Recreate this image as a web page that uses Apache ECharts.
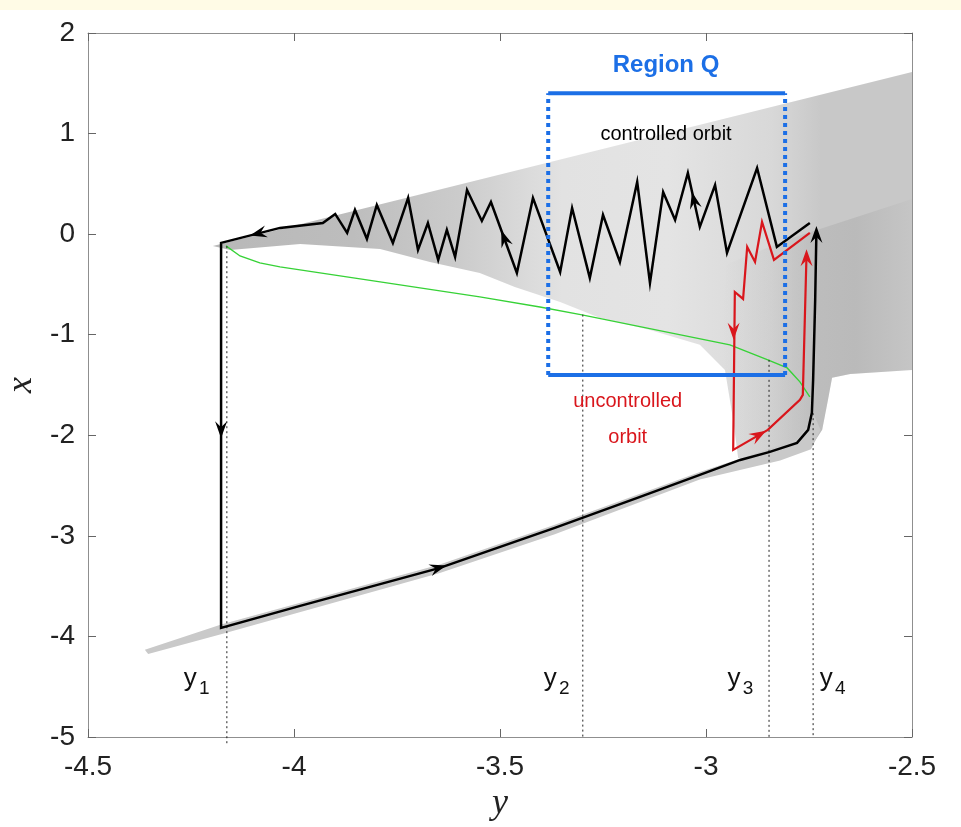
<!DOCTYPE html>
<html>
<head>
<meta charset="utf-8">
<script src="https://cdn.jsdelivr.net/npm/echarts@6/dist/echarts.min.js"></script>
<style>
html,body{margin:0;padding:0;background:#fff;}
#chart{position:absolute;left:0;top:0;width:961px;height:827px;}
#band{position:absolute;left:0;top:0;width:961px;height:10px;background:#fffbe6;}
</style>
</head>
<body>
<div id="chart"></div>
<div id="band"></div>
<script>
// ---- axis ticks ----
const xAxisTicks = [-4.5, -4, -3.5, -3, -2.5];   // horizontal axis (y)
const yAxisTicks = [-5, -4, -3, -2, -1, 0, 1, 2]; // vertical axis (x)

// ---- attractor cloud outlines [y, x] ----
const cloudUpper = [[-4.197,-0.117],[-2.5,1.612],[-2.5,-1.350],[-2.650,-1.390],[-2.694,-1.429],[-2.704,-1.648],[-2.718,-1.946],[-2.743,-2.105],[-2.796,-2.195],[-2.869,-2.264],[-2.922,-2.225],[-2.934,-1.847],[-2.954,-1.350],[-3.015,-1.101],[-3.136,-0.952],[-3.257,-0.833],[-3.354,-0.674],[-3.464,-0.525],[-3.549,-0.386],[-3.670,-0.276],[-3.791,-0.147],[-3.985,-0.097],[-4.155,-0.157]];
const cloudDense = [[-2.95,-0.30],[-2.80,-0.05],[-2.5,0.35],[-2.5,-1.350],[-2.650,-1.390],[-2.694,-1.429],[-2.704,-1.648],[-2.718,-1.946],[-2.743,-2.105],[-2.796,-2.195],[-2.869,-2.264],[-2.922,-2.225],[-2.934,-1.847],[-2.954,-1.350],[-2.96,-0.9]];
const cloudLower = [[-4.362,-4.133],[-4.175,-3.880],[-3.646,-3.285],[-3.367,-2.890],[-3.015,-2.365],[-2.845,-2.135],[-2.779,-2.036],[-2.752,-1.900],[-2.743,-1.748],[-2.722,-1.946],[-2.745,-2.140],[-2.820,-2.250],[-3.015,-2.440],[-3.367,-2.985],[-3.646,-3.370],[-4.175,-3.975],[-4.354,-4.175]];

// ---- green manifold curve ----
const greenCurve = [[-4.165,-0.117],[-4.131,-0.217],[-4.083,-0.286],[-4.034,-0.326],[-3.791,-0.475],[-3.549,-0.624],[-3.403,-0.724],[-3.301,-0.803],[-2.942,-1.101],[-2.850,-1.250],[-2.803,-1.330],[-2.772,-1.469],[-2.748,-1.618]];

// ---- controlled orbit (black) ----
const blackOrbit = [[-2.748,0.111],[-2.828,-0.127],[-2.876,0.658],[-2.949,-0.187],[-2.978,0.489],[-3.015,0.072],[-3.044,0.608],[-3.075,0.141],[-3.104,0.419],[-3.136,-0.485],[-3.167,0.519],[-3.209,-0.276],[-3.250,0.191],[-3.282,-0.435],[-3.325,0.260],[-3.354,-0.376],[-3.420,0.360],[-3.459,-0.386],[-3.522,0.320],[-3.544,0.131],[-3.580,0.439],[-3.609,-0.227],[-3.629,0.042],[-3.650,-0.256],[-3.675,0.111],[-3.699,-0.157],[-3.723,0.360],[-3.760,-0.087],[-3.799,0.290],[-3.823,-0.048],[-3.852,0.241],[-3.871,0.012],[-3.900,0.201],[-3.930,0.111],[-4.034,0.062],[-4.177,-0.087],
  [-4.177,-3.915],[-3.985,-3.696],[-3.646,-3.318],[-3.367,-2.920],[-3.160,-2.612],[-3.015,-2.394],[-2.917,-2.245],[-2.845,-2.165],[-2.779,-2.076],[-2.752,-1.946],[-2.743,-1.777],[-2.740,-1.449],[-2.735,-0.654],[-2.732,0.03]];
// arrows: [tailY, tailX, tipY, tipX]
const blackArrows = [[-4.177,-1.75,-4.177,-2.03],[-3.700,-3.378,-3.630,-3.295],[-4.05,0.045,-4.107,-0.014],[-3.481,-0.139,-3.497,0.038],[-3.025,0.260,-3.034,0.420],[-2.732,-0.20,-2.732,0.08]];

// ---- uncontrolled orbit (red) ----
const redOrbit = [[-2.748,0.012],[-2.835,-0.256],[-2.864,0.121],[-2.881,-0.276],[-2.900,-0.127],[-2.910,-0.644],[-2.930,-0.575],[-2.934,-2.145],[-2.850,-1.946],[-2.772,-1.648],[-2.765,-1.598],[-2.756,-0.20]];
const redArrows = [[-2.933,-0.83,-2.933,-1.05],[-2.888,-2.036,-2.854,-1.956],[-2.756,-0.40,-2.756,-0.15]];

// ---- Region Q ----
const regionQY = [-3.383, -2.808];
const regionQX = [-1.40, 1.40];

// ---- y_i markers ----
const markerY = [-4.163, -3.299, -2.847, -2.740];
const markerTop = [-0.12, -0.80, -1.25, -1.78];
const markerBottom = [-5.07, -5, -5, -5];
const markerSub = ['1', '2', '3', '4'];
const markerLabelY = [-4.252, -3.378, -2.932, -2.708];
const markerLabelX = -4.42;

// ---- annotations ----
const texts = [
  {text: 'Region Q', pos: [-3.097, 1.682], kind: 'q'},
  {text: 'controlled orbit', pos: [-3.097, 0.986], kind: 'c'},
  {text: 'uncontrolled\norbit', pos: [-3.190, -1.84], kind: 'u'}
];

const FONT = "'Liberation Sans', Arial, Helvetica, sans-serif";
const BLUE = '#1c6fe6';
const RED = '#d9161c';

const chart = echarts.init(document.getElementById('chart'), null, {renderer: 'canvas'});

function polygonSeries(points, fill, z) {
  return {
    type: 'custom', coordinateSystem: 'cartesian2d', silent: true, z: z,
    data: [[-3.5, 0]],
    renderItem: function (params, api) {
      return {type: 'polygon', shape: {points: points.map(p => api.coord(p))}, style: {fill: fill}};
    }
  };
}
function arrowSeries(arr, color, z) {
  return {
    type: 'custom', coordinateSystem: 'cartesian2d', silent: true, z: z,
    data: arr, encode: {x: [0, 2], y: [1, 3]},
    renderItem: function (params, api) {
      const t = api.coord([api.value(0), api.value(1)]);
      const h = api.coord([api.value(2), api.value(3)]);
      const a = Math.atan2(h[1] - t[1], h[0] - t[0]);
      const ux = Math.cos(a), uy = Math.sin(a), px = -uy, py = ux;
      const L = 17, W = 6, N = 11;
      const pts = [h, [h[0] - ux * L + px * W, h[1] - uy * L + py * W], [h[0] - ux * N, h[1] - uy * N], [h[0] - ux * L - px * W, h[1] - uy * L - py * W]];
      return {type: 'polygon', shape: {points: pts}, style: {fill: color}};
    }
  };
}
function lineSeries(data, color, width, dash, z, clip) {
  return {
    type: 'line', data: data, showSymbol: false, symbol: 'none', silent: true, z: z,
    clip: clip !== false, animation: false,
    lineStyle: {color: color, width: width, type: dash || 'solid', cap: 'butt', join: 'miter', opacity: 1}
  };
}
function textSeries(data, label, z) {
  return {type: 'scatter', silent: true, z: z, symbolSize: 0, itemStyle: {opacity: 1}, data: data,
    label: Object.assign({show: true, position: 'inside', opacity: 1}, label)};
}

const upperFill = new echarts.graphic.LinearGradient(0, 0, 1, 0, [
  {offset: 0, color: '#b8b8b8'}, {offset: 0.2, color: '#bdbdbd'}, {offset: 0.35, color: '#cbcbcb'},
  {offset: 0.5, color: '#e2e2e2'}, {offset: 0.65, color: '#e4e4e4'}, {offset: 0.8, color: '#d8d8d8'},
  {offset: 0.87, color: '#c8c8c8'}, {offset: 1, color: '#c8c8c8'}
]);
const denseFill = new echarts.graphic.LinearGradient(0, 0, 1, 0, [
  {offset: 0, color: 'rgba(150,150,150,0)'}, {offset: 0.45, color: 'rgba(150,150,150,0.22)'},
  {offset: 0.7, color: 'rgba(150,150,150,0.28)'}, {offset: 1, color: 'rgba(150,150,150,0.05)'}
]);

const series = [];
series.push(polygonSeries(cloudUpper, upperFill, 1));
series.push(polygonSeries(cloudDense, denseFill, 1));
series.push(polygonSeries(cloudLower, '#c9c9c9', 1));
series.push(lineSeries(greenCurve, '#37d237', 1.4, 'solid', 2));
markerY.forEach((y, i) => {
  series.push(lineSeries([[y, markerTop[i]], [y, markerBottom[i]]], '#222', 1, [2, 3], 3, false));
});
series.push(lineSeries(blackOrbit, '#000', 2.5, 'solid', 5));
series.push(lineSeries(redOrbit, RED, 2.2, 'solid', 5));
series.push(arrowSeries(blackArrows, '#000', 6));
series.push(arrowSeries(redArrows, RED, 6));
// Region Q
series.push(lineSeries([[regionQY[0], regionQX[1]], [regionQY[1], regionQX[1]]], BLUE, 4, 'solid', 7));
series.push(lineSeries([[regionQY[0], regionQX[0]], [regionQY[1], regionQX[0]]], BLUE, 4, 'solid', 7));
series.push(lineSeries([[regionQY[0], regionQX[0]], [regionQY[0], regionQX[1]]], BLUE, 4, [4, 4], 7));
series.push(lineSeries([[regionQY[1], regionQX[0]], [regionQY[1], regionQX[1]]], BLUE, 4, [4, 4], 7));
// marker labels: "y" and its subscript
series.push(textSeries(markerLabelY.map(y => [y, markerLabelX]),
  {formatter: 'y', fontFamily: FONT, fontSize: 26, color: '#111'}, 8));
series.push(textSeries(markerLabelY.map((y, i) => ({value: [y, markerLabelX], sub: markerSub[i]})),
  {formatter: p => p.data.sub, fontFamily: FONT, fontSize: 19, color: '#111', offset: [14, 10]}, 8));
// annotations
series.push(textSeries(texts.map(t => ({value: t.pos, name: t.text, kind: t.kind})), {
  formatter: p => '{' + p.data.kind + '|' + p.data.name.split('\n').join('}\n{' + p.data.kind + '|') + '}',
  rich: {
    q: {fontFamily: FONT, fontSize: 24, fontWeight: 'bold', color: BLUE},
    c: {fontFamily: FONT, fontSize: 20, color: '#000'},
    u: {fontFamily: FONT, fontSize: 20, color: RED, lineHeight: 36, align: 'center'}
  }
}, 9));

const axisLineStyle = {color: '#8f8f8f', width: 1};
const tickStyle = {color: '#666', width: 1};
const option = {
  animation: false,
  backgroundColor: '#ffffff',
  grid: {left: 88, right: 49, top: 33, bottom: 90, containLabel: false, outerBoundsMode: 'none'},
  xAxis: [
    {type: 'value', min: xAxisTicks[0], max: xAxisTicks[xAxisTicks.length - 1], interval: 0.5, position: 'bottom',
      axisLine: {show: true, onZero: false, lineStyle: axisLineStyle},
      axisTick: {show: true, inside: true, length: 8, lineStyle: tickStyle},
      axisLabel: {fontFamily: FONT, fontSize: 28, color: '#222', margin: 16},
      splitLine: {show: false},
      name: 'y', nameLocation: 'middle', nameGap: 36,
      nameTextStyle: {fontFamily: "'Liberation Serif', 'DejaVu Serif', serif", fontStyle: 'italic', fontSize: 36, color: '#222'}},
    {type: 'value', min: xAxisTicks[0], max: xAxisTicks[xAxisTicks.length - 1], interval: 0.5, position: 'top',
      axisLine: {show: true, onZero: false, lineStyle: axisLineStyle},
      axisTick: {show: true, inside: true, length: 8, lineStyle: tickStyle},
      axisLabel: {show: false}, splitLine: {show: false}}
  ],
  yAxis: [
    {type: 'value', min: yAxisTicks[0], max: yAxisTicks[yAxisTicks.length - 1], interval: 1, position: 'left',
      axisLine: {show: true, onZero: false, lineStyle: axisLineStyle},
      axisTick: {show: true, inside: true, length: 8, lineStyle: tickStyle},
      axisLabel: {fontFamily: FONT, fontSize: 28, color: '#222', margin: 13},
      splitLine: {show: false},
      name: 'x', nameLocation: 'middle', nameGap: 44, nameRotate: 90,
      nameTextStyle: {fontFamily: "'Liberation Serif', 'DejaVu Serif', serif", fontStyle: 'italic', fontSize: 36, color: '#222'}},
    {type: 'value', min: yAxisTicks[0], max: yAxisTicks[yAxisTicks.length - 1], interval: 1, position: 'right',
      axisLine: {show: true, onZero: false, lineStyle: axisLineStyle},
      axisTick: {show: true, inside: true, length: 8, lineStyle: tickStyle},
      axisLabel: {show: false}, splitLine: {show: false}}
  ],
  series: series
};
chart.setOption(option);
</script>
</body>
</html>
